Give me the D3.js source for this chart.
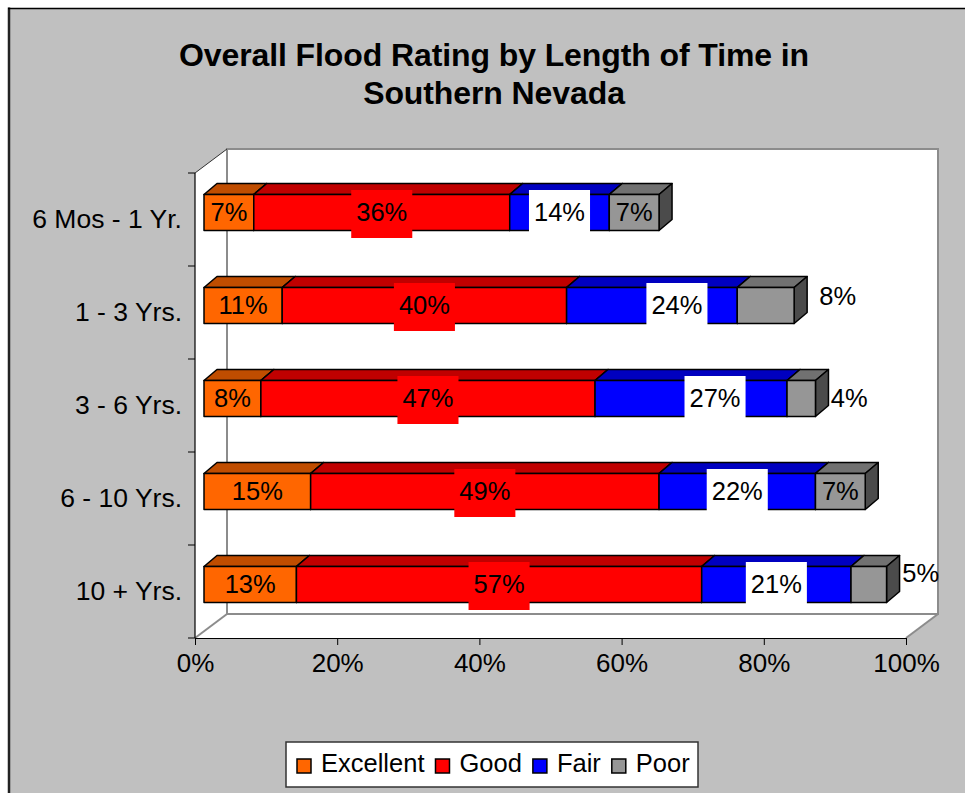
<!DOCTYPE html>
<html>
<head>
<meta charset="utf-8">
<script src="https://cdn.jsdelivr.net/npm/d3@7"></script>
<style>
  html, body { margin: 0; padding: 0; background: #ffffff; }
  svg { display: block; font-family: Arial, "Liberation Sans", sans-serif; }
</style>
</head>
<body>
<svg id="chart" width="965" height="793"></svg>
<script>
// ---- data ----
const categories = ["6 Mos - 1 Yr.", "1 - 3 Yrs.", "3 - 6 Yrs.", "6 - 10 Yrs.", "10 + Yrs."];
const seriesNames = ["Excellent", "Good", "Fair", "Poor"];
const excellent = [7, 11, 8, 15, 13];
const good      = [36, 40, 47, 49, 57];
const fair      = [14, 24, 27, 22, 21];
const poor      = [7, 8, 4, 7, 5];
const tickValues = [0, 20, 40, 60, 80, 100];
const titleLines = ["Overall Flood Rating by Length of Time in", "Southern Nevada"];

// ---- styling ----
const seriesValues = [excellent, good, fair, poor];
const faceColors = {
  Excellent: { front: "#FF6600", top: "#C04D00", side: "#803300" },
  Good:      { front: "#FF0000", top: "#C00000", side: "#800000" },
  Fair:      { front: "#0000FF", top: "#0000C0", side: "#000080" },
  Poor:      { front: "#969696", top: "#717171", side: "#4B4B4B" }
};
const labelBg = { Excellent: null, Good: "#FF0000", Fair: "#FFFFFF", Poor: null };
// hand-placed data labels (row index - series index) : [dx, dy] in px
const labelNudge = { "1-2": [25, 0], "1-3": [72, -9], "2-2": [24, 0], "2-3": [48, 0], "4-3": [52, -11] };

const W = 965, H = 793;
const FONT = 25.5;
const svg = d3.select("#chart");

// chart area background + border
svg.append("rect").attr("x", 9).attr("y", 9).attr("width", W).attr("height", H).attr("fill", "#C0C0C0");
svg.append("line").attr("x1", 9).attr("x2", 9).attr("y1", 7.5).attr("y2", H)
  .attr("stroke", "#222").attr("stroke-width", 2.5);
svg.append("line").attr("x1", 8).attr("x2", W).attr("y1", 8.5).attr("y2", 8.5)
  .attr("stroke", "#000").attr("stroke-width", 1.5);

// title
const titleY = [66, 104];
titleLines.forEach((t, i) => {
  svg.append("text")
    .attr("x", 494).attr("y", titleY[i])
    .attr("text-anchor", "middle")
    .attr("font-size", 32).attr("font-weight", "bold")
    .attr("letter-spacing", -0.1)
    .attr("fill", "#000")
    .text(t);
});

// scales
const x = d3.scaleLinear().domain([0, 100]).range([195, 906]);
const y = d3.scaleBand().domain(categories).range([173, 638]).padding(0);

const WALL = { dx: 32, dy: -24 };
const BAR = { fx: 9, fy: -7, dx: 13, dy: -11, h: 36 };

const top0 = y.range()[0], bot0 = y.range()[1];
const left0 = x(0), right0 = x(100);

// 3D box interior (side wall, back wall, floor)
svg.append("polygon")
  .attr("points", [
    [left0, top0], [left0 + WALL.dx, top0 + WALL.dy], [right0 + WALL.dx, top0 + WALL.dy],
    [right0 + WALL.dx, bot0 + WALL.dy], [right0, bot0], [left0, bot0]
  ].map(p => p.join(",")).join(" "))
  .attr("fill", "#FFFFFF");

const wallLine = (pts, color, w) => svg.append("polyline")
  .attr("points", pts.map(p => p.join(",")).join(" "))
  .attr("fill", "none").attr("stroke", color).attr("stroke-width", w)
  .attr("stroke-linejoin", "miter");

const bx0 = left0 + WALL.dx, bx1 = right0 + WALL.dx, by0 = top0 + WALL.dy, by1 = bot0 + WALL.dy;
wallLine([[bx0, by1], [bx0, by0], [bx1, by0], [bx1, by1], [bx0, by1]], "#8C8C8C", 2);
wallLine([[left0, bot0], [bx0, by1]], "#8C8C8C", 2);
wallLine([[right0, bot0], [bx1, by1]], "#8C8C8C", 2);
wallLine([[left0, top0], [bx0, by0]], "#303030", 1);

// bottom value axis
const xAxis = d3.axisBottom(x)
  .tickValues(tickValues)
  .tickFormat(d => d + "%")
  .tickSize(7)
  .tickSizeOuter(0)
  .tickPadding(9);
const gx = svg.append("g").attr("transform", `translate(0,${bot0})`).call(xAxis);
gx.select(".domain").attr("stroke", "#000").attr("stroke-width", 1.2);
gx.selectAll(".tick line").attr("stroke", "#000").attr("stroke-width", 1);
gx.selectAll(".tick text")
  .attr("font-size", 26).attr("font-family", "Arial, 'Liberation Sans', sans-serif")
  .attr("fill", "#000");

// left category axis
svg.append("line").attr("x1", left0).attr("x2", left0).attr("y1", top0).attr("y2", bot0)
  .attr("stroke", "#000").attr("stroke-width", 1.2);
const boundaries = categories.map(c => y(c)).concat([bot0]);
svg.append("g").selectAll("line").data(boundaries).join("line")
  .attr("x1", left0 - 7).attr("x2", left0)
  .attr("y1", d => d).attr("y2", d => d)
  .attr("stroke", "#000").attr("stroke-width", 1);
svg.append("g").selectAll("text").data(categories).join("text")
  .attr("x", 182)
  .attr("y", d => y(d) + y.bandwidth() / 2 - 1)
  .attr("text-anchor", "end")
  .attr("dominant-baseline", "central")
  .attr("font-size", 26.5).attr("fill", "#000")
  .text(d => d);

// stacked 3D bars
const rows = categories.map((c, i) => {
  let cum = 0;
  return seriesNames.map((s, k) => {
    const v = seriesValues[k][i];
    const seg = { cat: c, row: i, k, series: s, value: v, start: cum, end: cum + v };
    cum += v;
    return seg;
  });
});
const allSegs = rows.flat();

const geom = d => {
  const x0 = x(d.start) + BAR.fx, x1 = x(d.end) + BAR.fx;
  const yt = y(d.cat) + y.bandwidth() / 2 + BAR.fy - BAR.h / 2;
  return { x0, x1, yt, yb: yt + BAR.h };
};

const barG = svg.append("g");
allSegs.forEach(d => {
  const g = geom(d);
  const col = faceColors[d.series];
  const seg = barG.append("g")
    .attr("stroke", "#000").attr("stroke-width", 1.5).attr("stroke-linejoin", "round");
  seg.append("polygon")
    .attr("points", [[g.x0, g.yt], [g.x0 + BAR.dx, g.yt + BAR.dy], [g.x1 + BAR.dx, g.yt + BAR.dy], [g.x1, g.yt]]
      .map(p => p.join(",")).join(" "))
    .attr("fill", col.top);
  seg.append("polygon")
    .attr("points", [[g.x1, g.yt], [g.x1 + BAR.dx, g.yt + BAR.dy], [g.x1 + BAR.dx, g.yb + BAR.dy], [g.x1, g.yb]]
      .map(p => p.join(",")).join(" "))
    .attr("fill", col.side);
  seg.append("rect")
    .attr("x", g.x0).attr("y", g.yt).attr("width", g.x1 - g.x0).attr("height", BAR.h)
    .attr("fill", col.front);
});

// data labels
const labelG = svg.append("g");
allSegs.forEach(d => {
  const g = geom(d);
  const nudge = labelNudge[`${d.row}-${d.k}`] || [0, 0];
  const cx = (g.x0 + g.x1) / 2 + nudge[0];
  const cy = (g.yt + g.yb) / 2 - 1 + nudge[1];
  const bg = labelBg[d.series];
  const rect = bg ? labelG.append("rect").attr("fill", bg) : null;
  const t = labelG.append("text")
    .attr("x", cx).attr("y", cy)
    .attr("text-anchor", "middle")
    .attr("dominant-baseline", "central")
    .attr("font-size", FONT).attr("fill", "#000")
    .text(d.value + "%");
  if (rect) {
    const tw = t.node().getComputedTextLength();
    rect.attr("x", cx - tw / 2 - 5).attr("y", cy + 2.5 - 24)
      .attr("width", tw + 10).attr("height", 48);
  }
});

// legend
const legG = svg.append("g");
legG.append("rect").attr("x", 286).attr("y", 742).attr("width", 412).attr("height", 45)
  .attr("fill", "#FFFFFF").attr("stroke", "#333").attr("stroke-width", 1.5);
let lx = 297;
seriesNames.forEach(s => {
  legG.append("rect").attr("x", lx).attr("y", 759).attr("width", 14).attr("height", 14)
    .attr("fill", faceColors[s].front).attr("stroke", "#000").attr("stroke-width", 1.5);
  const t = legG.append("text").attr("x", lx + 24).attr("y", 772)
    .attr("font-size", FONT).attr("fill", "#000").text(s);
  lx += 24 + t.node().getComputedTextLength() + 11;
});
</script>
</body>
</html>
